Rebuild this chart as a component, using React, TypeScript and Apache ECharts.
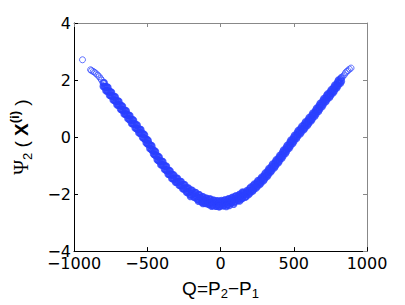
import React, { useEffect, useRef } from "react";
import * as echarts from "echarts";

const xTicks = [-1000, -500, 0, 500, 1000];
const yTicks = [-4, -2, 0, 2, 4];

const sparseLeft: [number, number][] = [
  [-942, 2.71], [-887, 2.36], [-880, 2.33], [-868, 2.3], [-860, 2.27], [-848, 2.22],
  [-838, 2.17], [-828, 2.12], [-818, 2.05], [-812, 2.0],
];

const bandLeft: [number, number][] = [
  [-800, 1.91], [-800, 1.78], [-788, 1.77],
  [-775, 1.75], [-775, 1.62], [-763, 1.58],
  [-750, 1.58], [-750, 1.45], [-738, 1.44],
  [-725, 1.42], [-725, 1.29], [-713, 1.25],
  [-700, 1.26], [-700, 1.12], [-688, 1.12],
  [-675, 1.09], [-675, 0.96], [-663, 0.92],
  [-650, 0.93], [-650, 0.8], [-638, 0.79],
  [-625, 0.76], [-625, 0.63], [-613, 0.59],
  [-600, 0.6], [-600, 0.47], [-588, 0.46],
  [-575, 0.43], [-575, 0.3], [-563, 0.26],
  [-550, 0.27], [-550, 0.14], [-538, 0.13],
  [-525, 0.1], [-525, -0.03], [-513, -0.09],
  [-500, -0.1], [-500, -0.23], [-488, -0.25],
  [-475, -0.29], [-475, -0.42], [-463, -0.48],
  [-450, -0.49], [-450, -0.62], [-438, -0.64],
  [-425, -0.69], [-425, -0.82], [-413, -0.86],
  [-400, -0.85], [-400, -0.98], [-388, -0.99],
  [-375, -1.02], [-375, -1.15], [-363, -1.19],
  [-350, -1.18], [-350, -1.31], [-338, -1.31],
  [-325, -1.33], [-325, -1.46], [-313, -1.48],
  [-300, -1.45], [-300, -1.58], [-288, -1.56],
  [-275, -1.56], [-275, -1.7], [-263, -1.71],
  [-250, -1.67], [-250, -1.82], [-238, -1.79],
  [-225, -1.79], [-225, -1.94], [-213, -1.93],
  [-200, -1.87], [-200, -2.03], [-188, -1.97],
  [-175, -1.95], [-175, -2.12], [-163, -2.09],
  [-150, -2.02], [-150, -2.2], [-138, -2.13],
  [-125, -2.1], [-125, -2.28], [-113, -2.22],
  [-100, -2.15], [-100, -2.33], [-88, -2.27],
  [-75, -2.18], [-75, -2.37], [-63, -2.3],
  [-50, -2.22], [-50, -2.4], [-38, -2.31],
  [-25, -2.25], [-25, -2.42], [-13, -2.35],
];

const bandLeftB: [number, number][] = [
  [-794, 1.9], [-794, 1.77], [-782, 1.76], [-782, 1.63],
  [-769, 1.74], [-769, 1.61], [-757, 1.6], [-757, 1.47],
  [-744, 1.57], [-744, 1.44], [-732, 1.43], [-732, 1.3],
  [-719, 1.41], [-719, 1.28], [-707, 1.27], [-707, 1.14],
  [-694, 1.25], [-694, 1.12], [-682, 1.11], [-682, 0.98],
  [-669, 1.08], [-669, 0.95], [-657, 0.94], [-657, 0.81],
  [-644, 0.92], [-644, 0.79], [-632, 0.78], [-632, 0.65],
  [-619, 0.75], [-619, 0.62], [-607, 0.61], [-607, 0.48],
  [-594, 0.59], [-594, 0.46], [-582, 0.45], [-582, 0.32],
  [-569, 0.42], [-569, 0.29], [-557, 0.28], [-557, 0.15],
  [-544, 0.26], [-544, 0.13], [-532, 0.12], [-532, -0.01],
  [-519, 0.08], [-519, -0.05], [-507, -0.07], [-507, -0.2],
  [-494, -0.12], [-494, -0.25], [-482, -0.27], [-482, -0.4],
  [-469, -0.31], [-469, -0.44], [-457, -0.46], [-457, -0.59],
  [-444, -0.51], [-444, -0.64], [-432, -0.66], [-432, -0.79],
  [-419, -0.7], [-419, -0.83], [-407, -0.84], [-407, -0.97],
  [-394, -0.86], [-394, -0.99], [-382, -1.0], [-382, -1.13],
  [-369, -1.03], [-369, -1.16], [-357, -1.17], [-357, -1.3],
  [-344, -1.19], [-344, -1.32], [-332, -1.32], [-332, -1.45],
  [-319, -1.33], [-319, -1.46], [-307, -1.45], [-307, -1.58],
  [-294, -1.45], [-294, -1.58], [-282, -1.56], [-282, -1.69],
  [-269, -1.56], [-269, -1.69], [-257, -1.68], [-257, -1.81],
  [-244, -1.68], [-244, -1.81], [-232, -1.8], [-232, -1.93],
  [-219, -1.79], [-219, -1.92], [-207, -1.89], [-207, -2.02],
  [-194, -1.87], [-194, -2.0], [-182, -1.97], [-182, -2.1],
  [-169, -1.95], [-169, -2.08], [-157, -2.05], [-157, -2.18],
  [-144, -2.03], [-144, -2.16], [-132, -2.13], [-132, -2.26],
  [-119, -2.1], [-119, -2.23], [-107, -2.19], [-107, -2.32],
  [-94, -2.15], [-94, -2.28], [-82, -2.22], [-82, -2.35],
  [-69, -2.18], [-69, -2.31], [-57, -2.26], [-57, -2.39],
  [-44, -2.22], [-44, -2.35], [-32, -2.29], [-32, -2.42],
  [-19, -2.24], [-19, -2.37], [-7, -2.3], [-7, -2.43],
];

const bandRight: [number, number][] = [
  [0, -2.26], [0, -2.41], [12, -2.33],
  [25, -2.23], [25, -2.4], [37, -2.31],
  [50, -2.19], [50, -2.36], [62, -2.25],
  [75, -2.14], [75, -2.31], [87, -2.21],
  [100, -2.09], [100, -2.26], [112, -2.15],
  [125, -2.04], [125, -2.2], [137, -2.08],
  [150, -1.98], [150, -2.14], [162, -2.02],
  [175, -1.93], [175, -2.08], [187, -1.94],
  [200, -1.81], [200, -1.96], [212, -1.85],
  [225, -1.7], [225, -1.85], [237, -1.71],
  [250, -1.59], [250, -1.73], [262, -1.61],
  [275, -1.47], [275, -1.61], [287, -1.46],
  [300, -1.33], [300, -1.47], [312, -1.33],
  [325, -1.18], [325, -1.32], [337, -1.16],
  [350, -1.02], [350, -1.16], [362, -1.02],
  [375, -0.87], [375, -1.01], [387, -0.85],
  [400, -0.71], [400, -0.85], [412, -0.7],
  [425, -0.53], [425, -0.67], [437, -0.51],
  [450, -0.36], [450, -0.5], [462, -0.35],
  [475, -0.18], [475, -0.32], [487, -0.16],
  [500, -0.01], [500, -0.15], [512, 0.01],
  [525, 0.16], [525, 0.02], [537, 0.17],
  [550, 0.31], [550, 0.17], [562, 0.3],
  [575, 0.46], [575, 0.32], [587, 0.47],
  [600, 0.61], [600, 0.47], [612, 0.61],
  [625, 0.77], [625, 0.63], [637, 0.79],
  [650, 0.94], [650, 0.8], [662, 0.95],
  [675, 1.11], [675, 0.97], [687, 1.13],
  [700, 1.28], [700, 1.14], [712, 1.29],
  [725, 1.45], [725, 1.31], [737, 1.46],
  [750, 1.59], [750, 1.45], [762, 1.6],
  [775, 1.75], [775, 1.61], [787, 1.77],
  [800, 1.93], [800, 1.79], [812, 1.94],
  [825, 2.08], [825, 1.96],
];

const bandRightB: [number, number][] = [
  [6, -2.23], [6, -2.36], [18, -2.28], [18, -2.41],
  [31, -2.2], [31, -2.33], [43, -2.25], [43, -2.38],
  [56, -2.17], [56, -2.3], [68, -2.2], [68, -2.33],
  [81, -2.12], [81, -2.25], [93, -2.15], [93, -2.28],
  [106, -2.06], [106, -2.19], [118, -2.09], [118, -2.22],
  [131, -2.01], [131, -2.14], [143, -2.04], [143, -2.17],
  [156, -1.95], [156, -2.08], [168, -1.98], [168, -2.11],
  [181, -1.88], [181, -2.01], [193, -1.88], [193, -2.01],
  [206, -1.76], [206, -1.89], [218, -1.77], [218, -1.9],
  [231, -1.65], [231, -1.78], [243, -1.65], [243, -1.78],
  [256, -1.53], [256, -1.66], [268, -1.53], [268, -1.66],
  [281, -1.41], [281, -1.54], [293, -1.4], [293, -1.53],
  [306, -1.26], [306, -1.39], [318, -1.25], [318, -1.38],
  [331, -1.11], [331, -1.24], [343, -1.09], [343, -1.22],
  [356, -0.95], [356, -1.08], [368, -0.94], [368, -1.07],
  [381, -0.8], [381, -0.93], [393, -0.78], [393, -0.91],
  [406, -0.64], [406, -0.77], [418, -0.61], [418, -0.74],
  [431, -0.46], [431, -0.59], [443, -0.44], [443, -0.57],
  [456, -0.29], [456, -0.42], [468, -0.26], [468, -0.39],
  [481, -0.11], [481, -0.24], [493, -0.09], [493, -0.22],
  [506, 0.06], [506, -0.07], [518, 0.08], [518, -0.05],
  [531, 0.23], [531, 0.1], [543, 0.24], [543, 0.11],
  [556, 0.38], [556, 0.25], [568, 0.39], [568, 0.26],
  [581, 0.53], [581, 0.4], [593, 0.54], [593, 0.41],
  [606, 0.68], [606, 0.55], [618, 0.7], [618, 0.57],
  [631, 0.84], [631, 0.71], [643, 0.86], [643, 0.73],
  [656, 1.01], [656, 0.88], [668, 1.03], [668, 0.9],
  [681, 1.18], [681, 1.05], [693, 1.2], [693, 1.07],
  [706, 1.35], [706, 1.22], [718, 1.37], [718, 1.24],
  [731, 1.51], [731, 1.38], [743, 1.52], [743, 1.39],
  [756, 1.66], [756, 1.53], [768, 1.68], [768, 1.55],
  [781, 1.82], [781, 1.69], [793, 1.85], [793, 1.72],
  [806, 2.0], [806, 1.87], [818, 2.02], [818, 1.89],
];

const sparseRight: [number, number][] = [
  [835, 2.12], [845, 2.18], [853, 2.25], [862, 2.3], [870, 2.33], [880, 2.38], [891, 2.42],
];

const scattered: [number, number][] = [
  [-60, -2.42], [40, -2.43], [-150, -2.25], [150, -1.93], [-10, -2.44], [90, -2.35],
  [-205, -2.08], [-120, -2.33], [130, -2.24], [60, -2.4],
];

const bandPoints = [...bandLeft, ...bandLeftB, ...bandRight, ...bandRightB, ...scattered];
const edgePoints = [...sparseLeft, ...sparseRight];

const fmt = (v: number) => String(v).replace("-", "\u2212");

export default function App() {
  const ref = useRef<HTMLDivElement>(null);
  useEffect(() => {
    if (!ref.current) return;
    const chart = echarts.init(ref.current, null, { renderer: "svg" });
    const tickFont = { fontFamily: "DejaVu Sans", fontSize: 16, color: "#000" };
    chart.setOption({
      animation: false,
      backgroundColor: "#fff",
      grid: { left: 67, right: 38, top: 23, bottom: 53, containLabel: false },
      xAxis: [
        {
          type: "value",
          min: xTicks[0],
          max: xTicks[xTicks.length - 1],
          interval: 500,
          position: "bottom",
          axisLine: { show: true, onZero: false, lineStyle: { color: "#000", width: 1 } },
          axisTick: { show: true, inside: true, length: 4, lineStyle: { color: "#000" } },
          axisLabel: { ...tickFont, margin: 4, formatter: fmt },
          splitLine: { show: false },
          name: "Q=P{sub|2}\u2212P{sub|1}",
          nameLocation: "middle",
          nameGap: 22,
          nameTextStyle: {
            fontFamily: "Liberation Sans",
            fontSize: 19,
            color: "#000",
            lineHeight: 24,
            rich: {
              sub: { fontFamily: "Liberation Sans", fontSize: 13, lineHeight: 13, verticalAlign: "bottom", color: "#000" },
            },
          },
        },
        {
          type: "value",
          min: xTicks[0],
          max: xTicks[xTicks.length - 1],
          interval: 500,
          position: "top",
          axisLine: { show: true, onZero: false, lineStyle: { color: "#888", width: 1 } },
          axisTick: { show: true, inside: true, length: 4, lineStyle: { color: "#888" } },
          axisLabel: { show: false },
          splitLine: { show: false },
        },
      ],
      yAxis: [
        {
          type: "value",
          min: yTicks[0],
          max: yTicks[yTicks.length - 1],
          interval: 2,
          position: "left",
          axisLine: { show: true, onZero: false, lineStyle: { color: "#000", width: 1 } },
          axisTick: { show: true, inside: true, length: 4, lineStyle: { color: "#000" } },
          axisLabel: { ...tickFont, margin: 3, formatter: fmt },
          splitLine: { show: false },
          name: "{psi|\u03A8}{sub|2}{n| ( }{bx|X}{sup|(i)}{n| )}",
          nameLocation: "middle",
          nameRotate: 90,
          nameGap: 40,
          nameTextStyle: {
            fontFamily: "Liberation Sans",
            fontSize: 19,
            color: "#000",
            lineHeight: 26,
            rich: {
              psi: { fontFamily: "Liberation Serif", fontSize: 20, lineHeight: 26, verticalAlign: "middle", color: "#000" },
              n: { fontFamily: "Liberation Sans", fontSize: 19, lineHeight: 26, verticalAlign: "middle", color: "#000" },
              bx: { fontFamily: "Liberation Sans", fontSize: 19, fontWeight: "bold", lineHeight: 26, verticalAlign: "middle", color: "#000" },
              sub: { fontFamily: "Liberation Sans", fontSize: 13, lineHeight: 13, verticalAlign: "bottom", color: "#000" },
              sup: { fontFamily: "Liberation Sans", fontSize: 13, fontWeight: "bold", lineHeight: 13, verticalAlign: "top", color: "#000" },
            },
          },
        },
        {
          type: "value",
          min: yTicks[0],
          max: yTicks[yTicks.length - 1],
          interval: 2,
          position: "right",
          axisLine: { show: true, onZero: false, lineStyle: { color: "#888", width: 1 } },
          axisTick: { show: true, inside: true, length: 4, lineStyle: { color: "#888" } },
          axisLabel: { show: false },
          splitLine: { show: false },
        },
      ],
      series: [
        {
          type: "scatter",
          xAxisIndex: 0,
          yAxisIndex: 0,
          data: bandPoints,
          symbol: "circle",
          symbolSize: 6,
          itemStyle: { color: "rgba(0,0,0,0)", borderColor: "#2a40ff", borderWidth: 1.7 },
        },
        {
          type: "scatter",
          xAxisIndex: 0,
          yAxisIndex: 0,
          data: edgePoints,
          symbol: "circle",
          symbolSize: 6,
          itemStyle: { color: "rgba(0,0,0,0)", borderColor: "#3a50ff", borderWidth: 1 },
        },
      ],
    });
    return () => chart.dispose();
  }, []);
  return (
    <div
      ref={ref}
      style={{ position: "fixed", left: 0, top: 0, width: 405, height: 305, background: "#fff" }}
    />
  );
}
